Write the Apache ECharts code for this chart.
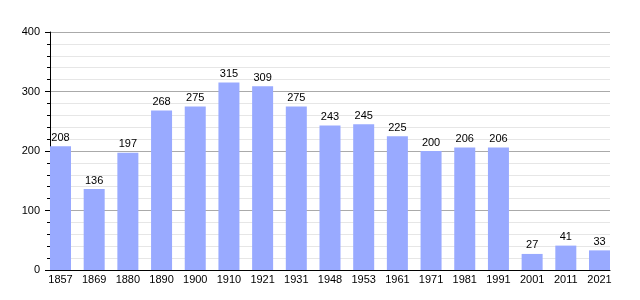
<!DOCTYPE html>
<html>
<head>
<meta charset="utf-8">
<script src="https://cdn.jsdelivr.net/npm/echarts@6/dist/echarts.min.js"></script>
<style>html,body{margin:0;padding:0;background:#fff}#c{width:640px;height:300px}</style>
</head>
<body>
<div id="c"></div>
<script>
const years = ['1857','1869','1880','1890','1900','1910','1921','1931','1948','1953','1961','1971','1981','1991','2001','2011','2021'];
const population = [208,136,197,268,275,315,309,275,243,245,225,200,206,206,27,41,33];
const yTicks = [0,100,200,300,400];

const font = 'Liberation Sans, Arial, sans-serif';
const chart = echarts.init(document.getElementById('c'));
chart.setOption({
  animation: false,
  grid: [
    {left: 50, right: 30, top: 32, bottom: 30},
    {left: 43.65, right: 23.65, top: 32, bottom: 30}
  ],
  xAxis: [
    {gridIndex: 0, type: 'category', data: years, axisLine: {show: true, lineStyle: {color: '#000', width: 1}},
     axisTick: {show: false}, axisLabel: {show: false}},
    {gridIndex: 1, type: 'category', data: years, axisLine: {show: false}, axisTick: {show: false},
     axisLabel: {color: '#000', fontSize: 11, fontFamily: font, margin: 4}}
  ],
  yAxis: [
    {gridIndex: 0, type: 'value', min: yTicks[0], max: yTicks[yTicks.length-1], interval: 100,
     axisLine: {show: true, lineStyle: {color: '#000'}},
     axisTick: {show: true, length: 5, lineStyle: {color: '#000'}},
     minorTick: {show: true, splitNumber: 5, length: 3, lineStyle: {color: '#000'}},
     splitLine: {show: true, lineStyle: {color: '#aaaaaa'}},
     minorSplitLine: {show: true, lineStyle: {color: '#e6e6e6'}},
     axisLabel: {color: '#000', fontSize: 11, fontFamily: font, margin: 10}},
    {gridIndex: 1, type: 'value', min: 0, max: 400, show: false}
  ],
  series: [{
    type: 'bar', xAxisIndex: 1, yAxisIndex: 1, data: population, barWidth: 21,
    itemStyle: {color: '#99aaff'},
    label: {show: true, position: 'top', distance: 3, color: '#000', fontSize: 11, fontFamily: font}
  }]
});
</script>
</body>
</html>
